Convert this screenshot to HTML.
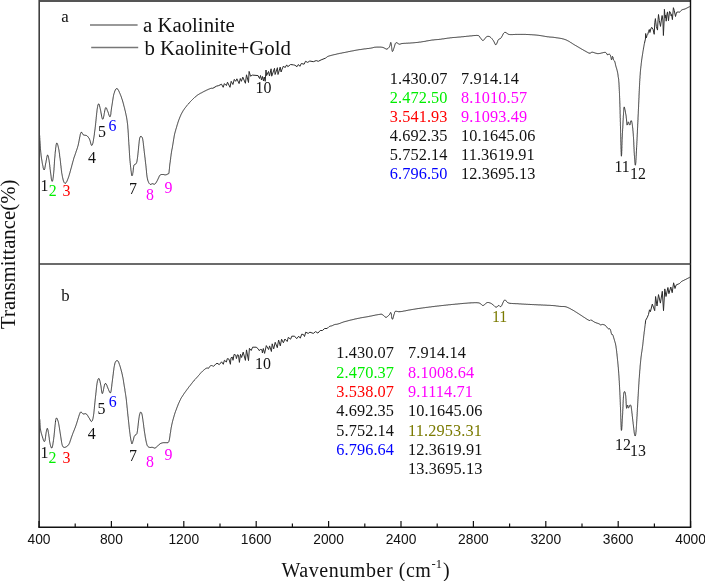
<!DOCTYPE html>
<html><head><meta charset="utf-8"><style>
html,body{margin:0;padding:0;background:#fff;}
body{width:705px;height:581px;overflow:hidden;position:relative;}
svg{position:absolute;left:0;top:0;will-change:transform;}
.serif{font-family:"Liberation Serif",serif;}
.sans{font-family:"Liberation Sans",sans-serif;}
</style></head><body>
<svg width="705" height="581" viewBox="0 0 705 581">
<g fill="none" stroke="#2a2a2a" stroke-width="1" stroke-linejoin="round">
<path d="M39.5 134.0L39.5 134.5L39.6 135.1L39.6 135.5L39.6 136.0L39.7 136.5L39.7 137.1L39.7 137.6L39.8 138.2L39.8 138.9L39.8 139.5L39.9 140.2L39.9 140.8L40.0 141.5L40.0 142.2L40.1 142.9L40.1 143.6L40.2 144.3L40.2 145.0L40.2 145.7L40.3 146.4L40.3 147.1L40.4 147.8L40.4 148.5L40.5 149.1L40.5 149.8L40.6 150.4L40.6 151.0L40.7 151.6L40.7 152.1L40.8 152.6L40.9 153.4L41.0 154.1L41.0 154.8L41.1 155.5L41.2 156.2L41.3 156.9L41.4 157.6L41.5 158.2L41.6 158.8L41.7 159.4L41.8 160.0L41.9 160.6L42.0 161.2L42.1 161.7L42.2 162.2L42.2 162.7L42.3 163.2L42.4 163.7L42.5 164.2L42.6 164.6L42.7 165.1L42.8 165.6L42.9 166.0L43.0 166.5L43.1 166.9L43.1 167.3L43.2 167.8L43.4 168.5L43.6 169.1L43.8 169.6L44.1 170.0L44.5 169.5L44.6 169.1L44.8 168.5L44.9 167.9L45.0 167.2L45.2 166.4L45.3 165.6L45.4 164.8L45.6 164.1L45.7 163.3L45.9 162.7L46.0 162.1L46.1 161.4L46.2 160.7L46.4 159.9L46.5 159.2L46.6 158.4L46.8 157.7L46.9 157.1L47.0 156.4L47.1 155.9L47.3 155.5L47.4 155.1L48.0 155.3L48.1 155.8L48.3 156.4L48.5 157.2L48.6 157.6L48.7 158.1L48.7 158.5L48.8 159.0L48.9 159.5L49.0 160.0L49.1 160.4L49.1 160.9L49.2 161.4L49.3 162.0L49.4 162.6L49.5 163.2L49.5 163.8L49.6 164.4L49.7 165.1L49.8 165.7L49.8 166.4L49.9 167.0L50.0 167.7L50.0 168.4L50.1 169.0L50.2 169.6L50.3 170.3L50.4 170.9L50.4 171.4L50.5 172.0L50.6 172.7L50.7 173.4L50.8 174.2L50.9 174.9L51.0 175.7L51.1 176.4L51.2 177.2L51.2 177.9L51.3 178.6L51.4 179.2L51.5 179.8L51.6 180.3L51.7 180.7L51.9 181.2L52.4 181.2L52.6 180.7L52.8 180.1L52.9 179.4L53.0 178.6L53.1 178.2L53.2 177.7L53.2 177.2L53.3 176.7L53.4 176.2L53.4 175.6L53.5 175.0L53.5 174.6L53.6 174.1L53.6 173.7L53.7 173.2L53.7 172.6L53.8 172.1L53.8 171.5L53.9 170.9L53.9 170.3L54.0 169.7L54.0 169.0L54.0 168.4L54.1 167.7L54.1 167.0L54.2 166.4L54.2 165.7L54.3 165.0L54.3 164.3L54.4 163.6L54.4 162.9L54.4 162.2L54.5 161.6L54.5 160.9L54.6 160.2L54.6 159.6L54.7 158.9L54.7 158.3L54.8 157.7L54.8 157.1L54.9 156.6L54.9 156.0L55.0 155.5L55.0 155.0L55.0 154.6L55.1 154.2L55.1 153.8L55.2 153.4L55.2 153.0L55.2 152.6L55.3 151.8L55.4 151.0L55.5 150.2L55.6 149.5L55.6 148.8L55.7 148.1L55.8 147.4L55.9 146.8L56.0 146.2L56.0 145.6L56.1 145.1L56.2 144.6L56.3 144.2L56.4 143.7L56.6 143.2L57.1 143.2L57.4 143.7L57.6 144.4L57.7 144.8L57.8 145.3L58.0 145.7L58.1 146.2L58.2 146.6L58.3 147.1L58.4 147.6L58.5 148.0L58.6 148.5L58.7 148.9L58.8 149.4L58.9 149.9L59.0 150.4L59.0 151.0L59.1 151.5L59.2 152.1L59.3 152.7L59.4 153.3L59.5 154.0L59.6 154.6L59.6 155.3L59.7 156.1L59.8 156.8L59.9 157.6L60.0 158.0L60.1 158.5L60.1 159.0L60.2 159.5L60.3 160.1L60.3 160.7L60.4 161.3L60.5 161.9L60.5 162.5L60.6 163.1L60.7 163.8L60.7 164.4L60.8 165.1L60.9 165.8L61.0 166.4L61.0 167.1L61.1 167.8L61.2 168.4L61.3 169.1L61.3 169.7L61.4 170.4L61.5 171.0L61.6 171.6L61.6 172.2L61.7 172.7L61.8 173.3L61.9 173.8L62.0 174.3L62.1 174.8L62.2 175.4L62.3 175.9L62.4 176.3L62.4 176.7L62.5 177.1L62.6 177.5L62.8 178.3L63.0 179.0L63.1 179.7L63.3 180.4L63.5 181.0L63.7 181.5L63.9 182.0L64.1 182.4L64.4 182.9L64.9 183.4L65.5 183.2L66.0 182.8L66.3 182.4L66.6 181.8L67.0 181.2L67.3 180.4L67.5 179.9L67.7 179.4L67.9 178.9L68.1 178.4L68.3 177.8L68.5 177.2L68.7 176.8L68.8 176.3L69.0 175.8L69.1 175.3L69.3 174.8L69.4 174.2L69.6 173.6L69.8 173.0L70.0 172.4L70.1 171.8L70.3 171.2L70.5 170.5L70.7 169.9L70.8 169.2L71.0 168.6L71.2 167.9L71.4 167.3L71.6 166.6L71.7 165.9L71.9 165.3L72.1 164.6L72.3 164.0L72.4 163.3L72.6 162.7L72.8 162.1L72.9 161.5L73.1 160.9L73.3 160.3L73.4 159.8L73.6 159.2L73.7 158.7L73.9 158.1L74.1 157.4L74.3 156.8L74.6 156.1L74.8 155.5L75.0 154.9L75.2 154.3L75.4 153.7L75.6 153.1L75.8 152.6L76.0 152.1L76.1 151.5L76.3 151.0L76.5 150.5L76.7 150.0L76.9 149.4L77.1 148.9L77.2 148.4L77.4 147.8L77.6 147.3L77.7 146.7L77.9 146.1L78.1 145.5L78.2 144.9L78.4 144.2L78.5 143.6L78.7 142.9L78.8 142.2L78.9 141.5L79.1 140.8L79.2 140.1L79.3 139.4L79.5 138.7L79.6 138.0L79.7 137.3L79.9 136.7L80.0 136.0L80.1 135.5L80.2 134.9L80.3 134.4L80.5 133.9L80.6 133.5L80.8 133.0L81.1 132.3L81.8 132.4L82.2 133.1L82.4 133.5L82.7 134.0L83.1 134.7L83.7 135.0L84.2 135.2L84.8 135.2L85.4 135.3L86.1 135.4L86.6 135.6L87.3 136.1L88.0 136.8L88.3 137.2L88.7 137.8L89.1 138.3L89.4 139.0L89.7 139.6L89.9 140.2L90.1 140.8L90.3 141.6L90.5 142.3L90.7 143.1L90.9 143.8L91.1 144.4L91.2 144.9L91.5 145.3L92.0 145.3L92.4 144.6L92.7 143.8L92.8 143.3L93.0 142.7L93.1 142.0L93.2 141.4L93.3 141.0L93.4 140.5L93.5 140.0L93.5 139.5L93.6 139.0L93.7 138.5L93.8 137.9L93.9 137.3L94.0 136.7L94.1 136.1L94.2 135.4L94.3 134.8L94.4 134.1L94.4 133.5L94.5 132.8L94.6 132.1L94.7 131.4L94.8 130.7L94.9 130.0L95.0 129.3L95.1 128.6L95.2 127.9L95.2 127.3L95.3 126.8L95.4 126.2L95.4 125.6L95.5 125.0L95.6 124.4L95.6 123.7L95.7 123.1L95.8 122.4L95.8 121.8L95.9 121.1L96.0 120.4L96.0 119.8L96.1 119.1L96.2 118.4L96.2 117.7L96.3 117.1L96.4 116.4L96.4 115.7L96.5 115.1L96.6 114.5L96.6 113.8L96.7 113.2L96.8 112.7L96.8 112.1L96.9 111.6L96.9 111.0L97.0 110.5L97.1 110.1L97.1 109.6L97.2 109.2L97.3 108.4L97.4 107.8L97.5 107.2L97.6 106.7L97.7 106.3L97.7 105.9L97.9 105.2L98.1 104.7L98.3 104.1L98.9 103.9L99.1 104.3L99.3 104.8L99.4 105.4L99.6 106.1L99.8 106.9L99.9 107.3L100.0 107.7L100.1 108.1L100.2 108.6L100.3 109.0L100.4 109.5L100.5 110.1L100.7 110.7L100.8 111.4L100.9 112.2L101.1 113.0L101.2 113.8L101.3 114.2L101.4 115.0L101.6 115.8L101.7 116.5L101.9 117.2L102.0 117.8L102.2 118.3L102.3 118.7L102.6 119.2L103.1 118.9L103.3 118.3L103.4 117.8L103.6 117.2L103.7 116.5L103.9 115.7L104.0 114.9L104.1 114.5L104.2 114.1L104.2 113.7L104.3 113.3L104.4 112.9L104.5 112.4L104.5 112.0L104.7 111.2L104.8 110.5L105.0 109.8L105.1 109.2L105.2 108.7L105.4 108.3L105.7 107.7L106.2 107.8L106.6 108.4L106.9 109.3L107.1 109.7L107.2 110.2L107.4 110.6L107.7 111.2L107.9 111.8L108.2 112.5L108.4 113.3L108.6 113.7L108.7 114.1L108.9 114.9L109.2 115.6L109.4 116.2L109.7 116.6L110.2 116.6L110.4 116.2L110.5 115.8L110.6 115.3L110.7 114.8L110.8 114.2L110.9 113.5L110.9 112.8L111.0 112.1L111.1 111.3L111.2 110.6L111.3 109.8L111.4 109.1L111.5 108.3L111.6 107.6L111.7 106.9L111.8 106.3L111.9 105.8L112.0 105.2L112.1 104.5L112.2 103.9L112.3 103.3L112.4 102.6L112.5 101.9L112.6 101.3L112.7 100.6L112.8 100.0L112.9 99.3L113.0 98.7L113.1 98.0L113.2 97.4L113.3 96.8L113.4 96.3L113.5 95.7L113.6 95.2L113.7 94.7L113.9 94.1L114.0 93.7L114.1 93.3L114.4 92.5L114.6 91.8L114.8 91.1L115.1 90.5L115.3 90.0L115.6 89.5L115.9 89.0L116.5 88.6L117.1 88.6L117.8 89.2L118.2 89.9L118.5 90.3L118.7 90.8L119.0 91.4L119.3 92.0L119.4 92.4L119.6 92.8L119.8 93.2L120.0 93.7L120.2 94.2L120.4 94.7L120.6 95.3L120.9 95.8L121.1 96.4L121.3 97.0L121.5 97.6L121.7 98.3L121.9 98.9L122.2 99.6L122.4 100.3L122.6 101.0L122.8 101.7L123.0 102.4L123.2 103.0L123.3 103.5L123.4 104.0L123.6 104.5L123.7 105.0L123.8 105.6L124.0 106.1L124.1 106.6L124.3 107.2L124.4 107.7L124.6 108.3L124.7 108.9L124.8 109.5L125.0 110.1L125.1 110.6L125.3 111.2L125.4 111.8L125.5 112.5L125.7 113.1L125.8 113.7L125.9 114.3L126.1 114.9L126.2 115.6L126.3 116.2L126.5 116.9L126.6 117.5L126.7 118.1L126.8 118.8L126.9 119.4L127.0 120.1L127.1 120.7L127.2 121.4L127.3 122.0L127.3 122.5L127.4 123.1L127.5 123.7L127.6 124.3L127.6 124.9L127.7 125.5L127.7 126.1L127.8 126.7L127.8 127.4L127.9 128.0L127.9 128.6L128.0 129.3L128.0 129.9L128.1 130.6L128.1 131.2L128.2 131.9L128.2 132.5L128.3 133.2L128.3 133.8L128.3 134.5L128.4 135.1L128.4 135.7L128.4 136.4L128.5 137.0L128.5 137.6L128.5 138.2L128.6 138.8L128.6 139.4L128.6 140.0L128.7 140.6L128.7 141.2L128.7 141.7L128.8 142.3L128.8 142.8L128.8 143.3L128.9 143.9L128.9 144.5L129.0 145.2L129.0 146.0L129.1 146.7L129.1 147.3L129.2 148.0L129.2 148.6L129.2 149.3L129.3 149.9L129.3 150.5L129.3 151.1L129.4 151.7L129.4 152.2L129.4 152.8L129.5 153.3L129.5 153.9L129.5 154.4L129.5 155.0L129.6 155.5L129.6 156.0L129.7 156.6L129.7 157.1L129.7 157.7L129.8 158.2L129.8 158.8L129.9 159.5L129.9 160.2L130.0 160.8L130.1 161.5L130.1 162.2L130.2 162.9L130.3 163.5L130.3 164.2L130.4 164.9L130.5 165.5L130.5 166.1L130.6 166.8L130.7 167.4L130.7 167.9L130.8 168.5L130.9 169.1L130.9 169.6L131.0 170.1L131.0 170.6L131.1 171.0L131.2 171.5L131.2 172.0L131.3 172.5L131.4 173.0L131.4 173.4L131.5 174.1L131.6 174.8L131.7 175.3L131.9 175.8L132.4 175.3L132.6 174.6L132.7 174.2L132.7 173.7L132.8 173.3L132.9 172.8L133.0 172.3L133.1 171.7L133.1 171.1L133.2 170.4L133.3 169.7L133.3 169.0L133.4 168.2L133.5 167.6L133.6 166.9L133.7 166.4L133.8 165.9L134.0 165.1L134.5 164.6L135.2 164.3L135.9 163.8L136.3 163.4L136.5 163.0L136.6 162.6L136.8 162.1L136.9 161.6L137.0 161.0L137.1 160.4L137.2 159.7L137.3 158.9L137.4 158.5L137.5 158.0L137.5 157.5L137.6 157.0L137.7 156.4L137.7 155.8L137.8 155.2L137.9 154.6L137.9 153.9L138.0 153.3L138.1 152.6L138.1 152.0L138.2 151.4L138.3 150.7L138.3 150.1L138.4 149.5L138.5 148.9L138.5 148.2L138.6 147.6L138.6 146.9L138.7 146.2L138.8 145.6L138.8 144.9L138.9 144.3L139.0 143.7L139.0 143.1L139.1 142.5L139.1 142.0L139.2 141.5L139.3 141.1L139.3 140.6L139.4 139.9L139.5 139.2L139.6 138.6L139.8 138.0L139.9 137.6L140.1 137.0L140.4 136.5L141.1 136.3L141.7 136.8L142.1 137.3L142.3 137.8L142.6 138.6L142.7 139.1L142.8 139.7L142.9 140.1L142.9 140.6L143.0 141.0L143.1 141.5L143.2 142.1L143.2 142.6L143.3 143.2L143.4 143.8L143.4 144.5L143.5 145.1L143.6 145.8L143.7 146.4L143.7 147.1L143.8 147.8L143.9 148.6L144.0 149.3L144.1 150.0L144.1 150.7L144.2 151.2L144.3 151.7L144.3 152.3L144.4 152.9L144.5 153.4L144.5 154.0L144.6 154.6L144.7 155.3L144.8 155.9L144.8 156.5L144.9 157.1L145.0 157.8L145.1 158.4L145.1 159.1L145.2 159.7L145.3 160.3L145.3 161.0L145.4 161.6L145.5 162.2L145.6 162.8L145.6 163.4L145.7 164.0L145.8 164.6L145.8 165.1L145.9 165.7L146.0 166.4L146.0 167.1L146.1 167.7L146.2 168.4L146.2 169.1L146.3 169.8L146.4 170.4L146.4 171.1L146.5 171.7L146.5 172.4L146.6 173.0L146.7 173.6L146.7 174.2L146.8 174.8L146.9 175.4L146.9 176.0L147.0 176.5L147.1 177.0L147.2 177.5L147.3 178.0L147.4 178.6L147.5 179.0L147.7 179.8L147.9 180.6L148.1 181.2L148.4 181.8L148.6 182.4L148.8 182.8L149.1 183.3L149.5 183.8L150.0 184.3L150.6 184.4L151.2 184.2L151.8 183.9L152.4 183.7L153.0 183.8L153.7 184.1L154.3 184.2L154.9 184.1L155.4 183.6L155.8 183.2L156.1 182.6L156.5 182.0L156.8 181.4L157.2 180.7L157.5 180.2L157.7 179.7L158.0 179.1L158.3 178.4L158.6 177.8L158.9 177.2L159.1 176.6L159.4 176.0L159.7 175.6L160.3 174.9L160.9 174.6L161.6 174.5L162.2 174.5L162.8 174.5L163.4 174.5L164.0 174.7L164.6 174.8L165.2 174.9L165.8 174.8L166.4 174.7L167.0 174.4L167.6 174.1L168.3 173.8L168.8 173.6L168.9 173.2L169.0 172.6L169.1 171.9L169.1 171.5L169.2 171.0L169.2 170.5L169.3 170.0L169.3 169.4L169.4 168.8L169.5 168.2L169.5 167.6L169.6 166.9L169.6 166.3L169.7 165.6L169.8 165.0L169.8 164.4L169.9 163.8L170.0 163.1L170.1 162.5L170.2 161.9L170.3 161.2L170.3 160.6L170.4 160.0L170.5 159.4L170.6 158.8L170.7 158.1L170.7 157.5L170.8 156.9L170.9 156.3L171.0 155.7L171.0 155.1L171.1 154.6L171.2 154.0L171.3 153.3L171.4 152.7L171.5 152.1L171.6 151.4L171.7 150.8L171.8 150.2L171.9 149.6L172.1 149.0L172.2 148.4L172.3 147.8L172.4 147.2L172.5 146.5L172.6 145.9L172.7 145.3L172.8 144.7L172.9 144.1L173.0 143.5L173.1 142.9L173.2 142.2L173.3 141.6L173.4 141.0L173.5 140.3L173.6 139.7L173.7 139.1L173.8 138.6L173.9 138.0L174.0 137.4L174.1 136.8L174.2 136.2L174.3 135.6L174.4 134.9L174.6 134.3L174.7 133.8L174.8 133.2L175.0 132.6L175.2 132.0L175.3 131.4L175.5 130.8L175.7 130.2L175.8 129.6L176.0 129.0L176.2 128.4L176.4 127.8L176.5 127.3L176.7 126.7L176.9 126.1L177.0 125.5L177.2 124.9L177.4 124.3L177.6 123.7L177.8 123.2L177.9 122.6L178.1 122.0L178.3 121.5L178.5 120.9L178.7 120.3L178.9 119.7L179.2 119.1L179.4 118.5L179.6 118.0L179.8 117.4L180.0 116.9L180.3 116.3L180.5 115.8L180.8 115.2L181.0 114.6L181.3 114.1L181.6 113.5L181.9 113.0L182.2 112.4L182.5 111.9L182.8 111.3L183.1 110.8L183.4 110.3L183.8 109.8L184.1 109.3L184.4 108.8L184.8 108.3L185.2 107.8L185.6 107.3L186.0 106.8L186.4 106.3L186.8 105.8L187.1 105.3L187.5 104.9L187.9 104.4L188.3 104.0L188.7 103.5L189.1 103.0L189.6 102.6L190.0 102.1L190.4 101.6L190.8 101.2L191.3 100.7L191.7 100.3L192.2 99.8L192.6 99.4L193.1 98.9L193.5 98.5L194.0 98.1L194.5 97.6L194.9 97.2L195.4 96.8L196.1 96.2L196.8 95.7L197.5 95.1L198.1 94.8L198.6 94.4L199.1 94.1L199.6 93.8L200.1 93.5L200.6 93.2L201.2 93.0L201.7 92.7L202.2 92.4L202.8 92.1L203.3 91.8L203.9 91.5L204.5 91.2L205.0 90.9L205.6 90.7L206.1 90.4L206.7 90.1L207.4 89.8L208.1 89.5L208.7 89.2L209.3 89.0L209.9 88.7L210.4 88.5L211.1 88.3L211.8 88.2L212.3 88.3L213.0 88.2L216.4 86.2L218.7 85.6L221.5 84.2L223.2 87.3L224.4 83.6L226.4 85.6L227.5 82.2L230.0 87.3L231.2 81.3L232.9 84.5L234.3 79.4L235.7 81.3L236.9 78.8L239.1 83.6L240.3 78.5L241.4 81.3L242.8 77.1L245.4 83.3L246.5 74.8L248.5 82.5L249.1 71.4L250.5 76.2L252.4 75.1L255.0 75.3L258.1 75.6L259.5 78.5L260.5 75.5L261.5 80.0L262.5 76.5L263.5 81.0L264.3 77.0L265.2 81.3L266.0 70.0L266.6 75.6L268.5 71.5L269.5 76.0L271.1 68.8L271.7 76.2L274.5 68.3L275.1 74.5L277.4 67.7L278.0 74.5L280.2 67.1L281.1 72.0L282.1 69.1L283.5 66.0L285.0 67.7L286.7 64.9L287.8 66.7L290.6 64.5L293.5 64.9L294.9 65.2L297.0 66.7L298.4 64.5L299.9 66.3L301.3 63.5L304.1 64.2L305.5 61.3L307.7 62.4L309.8 61.0L313.3 61.7L316.2 60.6L318.3 61.3L321.1 59.9L325.4 58.2L325.9 57.9L326.5 57.4L327.1 56.9L327.7 56.5L328.5 56.2L329.2 56.0L329.9 55.7L330.5 55.6L331.0 55.4L331.6 55.3L332.3 55.1L332.9 55.0L333.5 54.8L334.2 54.7L334.8 54.5L335.5 54.4L336.1 54.2L336.7 54.1L337.3 53.9L337.9 53.8L338.5 53.7L339.1 53.5L339.7 53.4L340.3 53.3L340.9 53.2L341.6 53.1L342.2 52.9L342.8 52.8L343.4 52.7L344.0 52.6L344.6 52.5L345.2 52.4L345.8 52.2L346.4 52.1L347.0 52.0L347.6 51.9L348.2 51.7L348.8 51.6L349.4 51.5L350.0 51.4L350.7 51.2L351.3 51.1L351.9 51.0L352.5 50.9L353.1 50.8L353.7 50.7L354.3 50.5L354.9 50.4L355.5 50.3L356.1 50.2L356.7 50.1L357.3 50.0L357.9 49.9L358.4 49.8L359.0 49.7L359.6 49.6L360.2 49.6L360.8 49.5L361.4 49.4L362.0 49.3L362.6 49.2L363.2 49.1L363.9 49.0L364.5 48.9L365.2 48.9L365.8 48.8L366.5 48.7L367.1 48.6L367.8 48.5L368.4 48.5L369.0 48.4L369.6 48.3L370.1 48.2L370.6 48.2L371.5 48.0L372.2 47.9L372.8 47.7L373.5 47.5L374.3 47.3L374.9 47.2L375.6 47.2L376.1 47.2L376.7 47.1L377.3 47.1L378.0 47.1L378.7 47.1L379.4 47.1L380.0 47.1L380.7 47.1L381.3 47.2L381.9 47.2L382.4 47.3L383.1 47.5L383.8 47.8L384.4 48.1L385.0 48.4L385.5 48.7L386.2 49.1L387.0 49.1L387.5 48.8L388.0 48.5L388.5 48.0L388.9 47.5L389.3 47.0L389.6 46.4L389.9 45.7L390.0 45.3L390.1 44.8L390.2 44.3L390.3 43.9L390.4 43.5L390.5 42.8L390.8 42.4L391.0 42.9L391.1 43.4L391.2 44.0L391.3 44.7L391.4 45.4L391.5 46.2L391.6 46.6L391.6 47.0L391.7 47.4L391.7 47.8L391.8 48.6L391.9 49.4L392.0 50.0L392.1 50.6L392.2 51.0L392.4 51.5L393.0 50.8L393.2 50.3L393.3 49.8L393.5 49.3L393.6 48.9L393.8 48.4L394.0 47.9L394.2 47.3L394.4 46.6L394.6 45.9L394.8 45.2L395.0 44.5L395.2 43.8L395.5 43.3L395.9 42.8L396.4 42.7L397.0 42.8L397.6 43.2L398.2 43.6L398.8 44.0L399.4 44.2L400.0 44.2L400.7 43.9L401.3 43.7L402.3 43.5L403.0 43.4L403.5 43.4L404.0 43.4L404.6 43.3L405.2 43.3L405.8 43.3L406.5 43.2L407.1 43.2L407.8 43.2L408.5 43.1L409.2 43.1L409.8 43.1L410.5 43.0L411.1 43.0L411.7 42.9L412.3 42.9L412.8 42.8L413.4 42.8L414.0 42.7L414.6 42.7L415.2 42.6L415.8 42.6L416.4 42.5L417.0 42.5L417.6 42.4L418.3 42.3L419.0 42.2L419.6 42.1L420.3 42.1L420.8 42.0L421.4 41.9L422.0 41.8L422.6 41.7L423.2 41.6L423.8 41.5L424.5 41.4L425.1 41.3L425.8 41.2L426.4 41.0L427.0 40.9L427.7 40.8L428.3 40.7L428.9 40.6L429.5 40.5L430.1 40.4L430.7 40.3L431.2 40.2L431.7 40.1L432.4 40.0L433.1 40.0L433.8 39.9L434.4 39.8L435.0 39.8L435.6 39.7L436.1 39.7L436.7 39.6L437.2 39.6L437.8 39.5L438.4 39.5L439.0 39.4L439.7 39.3L440.3 39.3L440.8 39.2L441.4 39.1L442.0 39.0L442.6 38.9L443.2 38.9L443.8 38.8L444.4 38.7L445.0 38.6L445.7 38.5L446.3 38.4L446.9 38.3L447.5 38.2L448.2 38.1L448.8 38.1L449.4 38.0L450.0 37.9L450.6 37.8L451.2 37.8L451.8 37.7L452.4 37.6L453.0 37.6L453.6 37.5L454.2 37.5L454.8 37.4L455.5 37.4L456.1 37.3L456.7 37.3L457.3 37.2L457.9 37.2L458.5 37.1L459.1 37.1L459.7 37.0L460.3 37.0L460.9 36.9L461.5 36.8L462.2 36.8L462.8 36.7L463.4 36.7L464.0 36.6L464.7 36.5L465.3 36.5L465.9 36.4L466.5 36.3L467.1 36.3L467.7 36.2L468.3 36.2L468.9 36.1L469.4 36.0L470.0 36.0L470.7 35.9L471.4 35.9L472.1 35.8L472.8 35.7L473.5 35.6L474.1 35.6L474.8 35.5L475.4 35.5L476.0 35.4L476.6 35.4L477.1 35.4L477.8 35.5L478.4 35.6L479.1 36.0L479.5 36.4L479.8 37.0L480.1 37.5L480.5 38.0L480.9 38.5L481.3 39.1L481.7 39.6L482.2 40.1L482.9 40.5L483.5 40.3L484.1 39.7L484.5 39.1L485.0 38.5L485.4 37.9L485.9 37.4L486.3 36.9L486.8 36.6L487.4 36.4L488.0 36.3L488.7 36.4L489.3 36.5L489.9 36.8L490.5 37.3L491.0 37.7L491.4 38.1L491.9 38.6L492.3 39.2L492.7 39.7L493.1 40.2L493.5 40.8L493.8 41.4L494.2 42.1L494.5 42.8L494.8 43.5L495.1 44.1L495.4 44.6L496.0 44.7L496.5 44.2L496.7 43.7L497.0 43.0L497.3 42.2L497.6 41.5L497.8 40.8L498.1 40.2L498.4 39.7L498.9 39.2L499.6 38.9L500.1 38.7L500.7 38.3L501.1 37.8L501.4 37.4L501.7 36.8L502.0 36.2L502.4 35.6L502.7 35.0L503.0 34.3L503.3 33.7L503.7 33.2L504.1 32.8L504.6 32.4L505.1 32.3L505.9 32.6L506.4 32.9L506.9 33.3L507.5 33.7L508.1 34.1L508.8 34.4L509.4 34.5L509.9 34.6L510.5 34.6L511.0 34.6L511.6 34.6L512.2 34.6L512.8 34.6L513.4 34.5L514.1 34.5L514.7 34.5L515.4 34.4L516.1 34.4L516.8 34.4L517.4 34.4L517.9 34.4L518.5 34.4L519.0 34.4L519.6 34.4L520.2 34.4L520.8 34.4L521.4 34.4L522.0 34.4L522.6 34.4L523.2 34.4L523.8 34.4L524.5 34.4L525.1 34.4L525.7 34.4L526.4 34.5L527.0 34.5L527.6 34.5L528.2 34.5L528.8 34.6L529.4 34.6L530.0 34.6L530.6 34.7L531.3 34.7L531.9 34.7L532.5 34.8L533.2 34.8L533.8 34.9L534.4 34.9L535.0 35.0L535.6 35.0L536.2 35.1L536.8 35.1L537.4 35.2L538.0 35.2L538.5 35.3L539.2 35.4L539.9 35.5L540.5 35.6L541.1 35.7L541.7 35.8L542.3 35.9L542.9 36.0L543.5 36.1L544.1 36.2L544.7 36.3L545.2 36.4L545.8 36.5L546.4 36.6L547.0 36.7L547.6 36.8L548.2 36.8L548.8 36.9L549.4 37.0L550.0 37.0L550.6 37.1L551.2 37.1L551.8 37.2L552.4 37.2L553.0 37.3L553.6 37.3L554.2 37.4L554.8 37.5L555.5 37.6L556.0 37.7L556.6 37.8L557.2 37.9L557.8 37.9L558.3 38.0L558.9 38.1L559.5 38.2L560.1 38.3L560.7 38.4L561.3 38.5L561.9 38.6L562.5 38.8L563.1 38.9L563.7 39.1L564.3 39.3L564.9 39.5L565.5 39.7L566.0 39.9L566.5 40.1L567.1 40.4L567.6 40.7L568.1 40.9L568.6 41.2L569.2 41.5L569.7 41.8L570.2 42.2L570.7 42.5L571.2 42.8L571.8 43.1L572.3 43.5L572.8 43.8L573.3 44.1L573.8 44.5L574.4 44.8L574.9 45.1L575.4 45.4L575.9 45.7L576.5 46.0L577.0 46.3L577.6 46.7L578.1 47.0L578.7 47.3L579.3 47.7L579.9 48.0L580.4 48.3L581.0 48.6L581.5 49.0L582.1 49.3L582.6 49.6L583.1 49.9L583.8 50.3L584.5 50.7L585.1 51.0L585.8 51.4L586.5 51.8L587.2 52.2L587.8 52.5L588.5 52.9L589.1 53.1L590.0 53.2L590.5 53.0L591.0 52.6L591.6 52.3L592.4 52.2L593.1 52.3L593.7 52.5L594.2 52.7L594.8 52.9L595.4 53.1L596.1 53.3L596.8 53.4L597.4 53.6L598.1 53.6L598.7 53.6L599.3 53.5L599.9 53.4L600.6 53.3L601.3 53.1L601.9 52.9L602.6 52.8L603.2 52.6L603.8 52.5L604.4 52.4L605.1 52.4L605.7 52.5L606.3 53.0L606.7 53.6L607.0 54.2L607.2 54.7L608.0 54.7L608.6 54.3L609.1 54.1L609.6 54.3L610.1 54.7L610.5 55.5L610.7 56.0L610.8 56.7L611.0 57.5L611.0 57.9L611.2 58.6L611.3 59.3L611.5 59.8L611.9 59.2L612.1 58.4L612.1 57.9L612.2 57.5L612.3 57.1L612.4 56.4L612.9 56.9L613.1 57.6L613.2 58.4L613.4 59.1L613.5 59.8L613.8 60.4L614.5 61.0L614.7 61.4L614.8 61.8L615.0 62.4L615.1 63.0L615.3 63.6L615.4 64.3L615.6 64.9L615.7 65.5L615.9 66.1L616.0 66.7L616.2 67.3L616.4 67.9L616.6 68.5L616.7 69.0L616.9 69.6L617.0 70.2L617.2 70.7L617.3 71.3L617.5 72.0L617.6 72.5L617.7 73.1L617.8 73.7L617.9 74.3L618.0 75.0L618.1 75.6L618.1 76.2L618.2 76.7L618.3 77.2L618.4 77.7L618.5 78.3L618.6 79.0L618.7 79.5L618.7 80.0L618.7 80.4L618.8 80.9L618.8 81.4L618.8 81.9L618.9 82.4L618.9 83.0L619.0 83.6L619.0 84.2L619.0 84.8L619.1 85.4L619.1 86.1L619.1 86.8L619.2 87.4L619.2 88.2L619.2 88.9L619.3 89.6L619.3 90.2L619.3 90.7L619.4 91.2L619.4 91.7L619.4 92.2L619.4 92.8L619.5 93.3L619.5 93.8L619.5 94.3L619.5 94.8L619.5 95.4L619.6 95.9L619.6 96.5L619.6 97.1L619.6 97.6L619.7 98.3L619.7 98.9L619.7 99.5L619.7 100.2L619.8 100.8L619.8 101.5L619.8 102.3L619.8 103.0L619.9 103.8L619.9 104.6L619.9 105.0L619.9 105.5L619.9 106.0L619.9 106.5L620.0 107.0L620.0 107.5L620.0 108.1L620.0 108.6L620.0 109.2L620.0 109.7L620.1 110.3L620.1 110.9L620.1 111.5L620.1 112.1L620.1 112.7L620.1 113.3L620.1 113.9L620.2 114.5L620.2 115.1L620.2 115.8L620.2 116.4L620.2 117.1L620.2 117.7L620.3 118.3L620.3 119.0L620.3 119.6L620.3 120.3L620.3 120.9L620.3 121.6L620.4 122.2L620.4 122.9L620.4 123.5L620.4 124.2L620.4 124.8L620.4 125.4L620.5 126.1L620.5 126.7L620.5 127.3L620.5 128.0L620.5 128.6L620.5 129.2L620.6 129.8L620.6 130.4L620.6 131.0L620.6 131.6L620.6 132.3L620.6 132.9L620.7 133.6L620.7 134.3L620.7 135.0L620.7 135.7L620.7 136.5L620.8 137.2L620.8 138.0L620.8 138.8L620.8 139.5L620.8 140.3L620.8 141.1L620.9 141.9L620.9 142.7L620.9 143.4L620.9 144.2L620.9 145.0L621.0 145.7L621.0 146.5L621.0 147.2L621.0 147.9L621.0 148.6L621.1 149.3L621.1 149.9L621.1 150.6L621.1 151.2L621.1 151.8L621.2 152.3L621.2 152.9L621.2 153.3L621.2 153.8L621.2 154.2L621.3 154.8L621.3 155.3L621.3 155.8L621.4 156.2L621.5 155.8L621.5 155.4L621.6 154.8L621.6 154.4L621.6 153.9L621.7 153.4L621.7 152.8L621.7 152.2L621.7 151.5L621.8 150.9L621.8 150.2L621.8 149.4L621.8 148.6L621.9 147.9L621.9 147.1L621.9 146.7L621.9 146.3L621.9 145.8L621.9 145.4L622.0 145.0L622.0 144.6L622.0 144.2L622.0 143.8L622.0 143.3L622.0 142.9L622.0 142.5L622.1 142.1L622.1 141.7L622.1 141.3L622.1 140.8L622.1 140.4L622.1 140.0L622.1 139.6L622.2 139.2L622.2 138.4L622.2 137.7L622.3 136.9L622.3 136.2L622.3 135.7L622.4 135.1L622.4 134.5L622.4 133.9L622.4 133.3L622.5 132.7L622.5 132.1L622.5 131.4L622.6 130.8L622.6 130.1L622.6 129.4L622.7 128.8L622.7 128.1L622.8 127.4L622.8 126.7L622.8 126.0L622.9 125.3L622.9 124.6L622.9 123.9L623.0 123.2L623.0 122.5L623.0 121.8L623.1 121.1L623.1 120.4L623.2 119.7L623.2 119.1L623.2 118.4L623.3 117.7L623.3 117.1L623.3 116.5L623.4 115.9L623.4 115.3L623.5 114.7L623.5 114.1L623.5 113.6L623.6 113.1L623.6 112.6L623.6 112.1L623.7 111.6L623.7 111.2L623.7 110.8L623.8 110.2L623.8 109.7L624.0 107.7L624.2 106.9L624.5 107.7L624.7 108.5L624.8 109.0L624.9 109.4L625.0 109.9L625.2 110.5L625.3 111.1L625.4 111.8L625.5 112.4L625.6 113.2L625.7 113.9L625.9 114.6L626.0 115.3L626.1 116.0L626.2 116.6L626.2 117.2L626.3 117.9L626.4 118.6L626.5 119.3L626.5 120.0L626.6 120.8L626.6 121.5L626.7 122.2L626.8 122.9L626.8 123.5L626.9 124.0L626.9 124.5L627.0 125.1L627.6 124.3L627.7 123.8L627.8 123.3L627.9 122.8L628.0 122.4L628.2 121.8L628.7 122.3L628.9 123.1L629.0 123.6L629.2 124.0L629.3 124.5L629.6 125.1L630.1 124.5L630.3 123.7L630.3 123.3L630.4 122.9L630.5 122.5L630.6 122.1L630.7 121.3L630.9 120.8L631.4 120.8L631.6 121.2L631.8 122.0L631.9 122.4L632.0 122.9L632.1 123.5L632.2 124.1L632.3 124.5L632.3 124.9L632.4 125.4L632.4 125.9L632.5 126.4L632.6 126.9L632.6 127.4L632.7 128.0L632.8 128.6L632.8 129.2L632.9 129.8L632.9 130.4L633.0 131.1L633.1 131.8L633.1 132.5L633.2 133.2L633.2 133.9L633.3 134.7L633.3 135.4L633.4 136.2L633.4 136.7L633.5 137.2L633.5 137.8L633.5 138.3L633.6 138.9L633.6 139.5L633.6 140.1L633.7 140.7L633.7 141.4L633.7 142.0L633.8 142.7L633.8 143.3L633.8 144.0L633.8 144.7L633.9 145.3L633.9 146.0L633.9 146.7L634.0 147.3L634.0 148.0L634.0 148.7L634.1 149.3L634.1 150.0L634.1 150.6L634.1 151.2L634.2 151.8L634.2 152.4L634.2 153.0L634.3 153.5L634.3 154.0L634.3 154.5L634.4 155.0L634.4 155.5L634.4 156.0L634.5 156.4L634.5 156.9L634.5 157.4L634.6 157.9L634.6 158.4L634.6 158.9L634.7 159.4L634.7 159.8L634.7 160.3L634.8 160.8L634.8 161.2L634.8 161.6L634.9 162.1L634.9 162.5L635.0 163.2L635.1 163.9L635.1 164.4L635.2 164.8L635.4 165.2L635.5 164.8L635.6 164.4L635.7 163.9L635.7 163.3L635.8 162.9L635.8 162.5L635.8 162.0L635.9 161.5L635.9 161.0L635.9 160.4L636.0 159.8L636.0 159.2L636.0 158.6L636.1 157.9L636.1 157.3L636.1 156.6L636.2 155.9L636.2 155.1L636.3 154.4L636.3 153.7L636.3 152.9L636.4 152.1L636.4 151.3L636.5 150.6L636.5 149.8L636.5 149.0L636.6 148.2L636.6 147.4L636.7 146.6L636.7 145.8L636.7 145.3L636.8 144.8L636.8 144.3L636.8 143.8L636.8 143.3L636.9 142.8L636.9 142.2L636.9 141.7L636.9 141.2L637.0 140.6L637.0 140.1L637.0 139.5L637.0 138.9L637.1 138.4L637.1 137.8L637.1 137.2L637.2 136.6L637.2 136.0L637.2 135.5L637.2 134.9L637.3 134.3L637.3 133.7L637.3 133.0L637.4 132.4L637.4 131.8L637.4 131.2L637.4 130.6L637.5 130.0L637.5 129.3L637.5 128.7L637.6 128.1L637.6 127.4L637.6 126.8L637.7 126.2L637.7 125.5L637.7 124.9L637.7 124.2L637.8 123.6L637.8 122.9L637.8 122.3L637.9 121.6L637.9 121.0L637.9 120.3L638.0 119.7L638.0 119.0L638.0 118.4L638.0 117.7L638.1 117.1L638.1 116.4L638.1 115.8L638.2 115.1L638.2 114.5L638.2 113.9L638.3 113.4L638.3 112.8L638.3 112.2L638.3 111.6L638.4 111.0L638.4 110.4L638.4 109.8L638.4 109.2L638.5 108.6L638.5 107.9L638.5 107.3L638.6 106.7L638.6 106.0L638.6 105.4L638.6 104.7L638.7 104.1L638.7 103.4L638.7 102.8L638.8 102.1L638.8 101.5L638.8 100.8L638.8 100.2L638.9 99.5L638.9 98.9L638.9 98.2L639.0 97.6L639.0 96.9L639.0 96.3L639.0 95.6L639.1 95.0L639.1 94.3L639.1 93.7L639.2 93.0L639.2 92.4L639.2 91.8L639.2 91.1L639.3 90.5L639.3 89.9L639.3 89.3L639.4 88.6L639.4 88.0L639.4 87.4L639.4 86.9L639.5 86.3L639.5 85.7L639.5 85.1L639.6 84.6L639.6 84.0L639.6 83.4L639.6 82.9L639.7 82.4L639.7 81.9L639.7 81.3L639.8 80.8L639.8 80.4L639.8 79.9L639.8 79.4L639.9 78.9L639.9 78.5L639.9 78.0L640.0 77.6L640.0 77.1L640.0 76.7L640.0 76.3L640.1 75.8L640.1 75.4L640.2 74.6L640.2 73.9L640.3 73.2L640.3 72.5L640.4 71.8L640.4 71.2L640.5 70.5L640.6 70.0L640.6 69.4L640.7 68.8L640.7 68.3L640.8 67.8L640.8 67.2L640.9 66.7L640.9 66.2L641.0 65.8L641.1 65.3L641.1 64.8L641.2 64.3L641.2 63.8L641.3 63.3L641.4 62.9L641.4 62.4L641.5 61.9L641.5 61.2L641.6 60.5L641.7 59.8L641.8 59.1L641.9 58.5L642.0 57.8L642.1 57.1L642.2 56.5L642.3 55.9L642.4 55.2L642.5 54.6L642.6 54.0L642.7 53.5L642.8 52.9L642.8 52.4L642.9 51.8L643.0 51.3L643.1 50.8L643.2 50.3L643.3 49.8L643.4 49.2L643.4 48.8L643.6 48.0L643.7 47.3L643.8 46.7L643.9 46.1L644.0 45.6L644.1 45.0L644.2 44.5L644.3 44.0L644.4 43.5L645.4 39.1L645.7 33.5L646.3 37.9L647.0 35.5L647.8 34.3L648.5 31.5L649.3 29.5L649.9 32.5L650.8 29.0L651.7 27.3L653.0 29.2L654.2 34.3L654.8 22.8L655.4 18.6L656.3 26.4L657.5 30.1L658.1 19.2L658.5 14.5L659.3 20.4L660.5 26.4L661.1 22.0L661.7 18.0L662.1 15.5L662.9 20.0L663.4 35.5L664.1 21.0L664.4 9.3L665.2 18.1L665.7 15.0L666.2 21.2L667.0 14.0L667.5 11.9L668.5 20.7L669.1 15.0L669.6 11.4L670.6 12.9L671.2 16.0L671.6 14.5L672.4 19.6L673.4 7.7L674.2 10.3L675.5 16.5L676.5 12.4L678.1 11.9L678.7 12.1L679.3 12.3L679.8 12.1L680.3 11.4L680.8 10.9L681.2 10.4L681.7 10.0L682.2 9.7L682.8 9.6L683.4 9.4L684.0 9.3L684.8 9.0L685.6 8.7L686.2 8.4L686.8 8.1L687.5 7.7L688.1 7.4L688.7 7.1L689.2 6.9L689.8 6.6L689.8 6.6"/>
<path d="M39.8 419.3L39.8 419.8L39.8 420.3L39.9 420.8L39.9 421.4L39.9 422.0L39.9 422.6L40.0 423.3L40.0 424.0L40.0 424.7L40.1 425.4L40.1 426.1L40.2 426.8L40.2 427.4L40.3 428.1L40.4 428.6L40.5 429.2L40.6 429.9L40.7 430.6L40.8 431.2L41.0 431.9L41.1 432.5L41.3 433.1L41.4 433.6L41.6 434.2L41.8 434.8L41.9 435.3L42.1 435.8L42.3 436.4L42.5 437.2L42.8 438.0L42.9 438.4L43.0 438.8L43.1 439.2L43.4 439.9L43.7 440.6L43.9 441.2L44.3 441.6L44.8 441.2L45.0 440.6L45.1 440.1L45.2 439.5L45.3 438.8L45.4 438.1L45.5 437.4L45.6 436.6L45.7 435.8L45.8 435.0L45.9 434.3L46.0 433.6L46.1 432.9L46.2 432.3L46.3 431.7L46.4 431.3L46.5 430.7L46.6 430.1L46.8 429.6L46.8 429.2L47.0 428.5L47.6 428.7L47.7 429.1L47.8 429.6L48.0 430.2L48.1 430.9L48.2 431.7L48.4 432.5L48.5 432.9L48.5 433.3L48.6 433.7L48.7 434.2L48.8 434.7L48.8 435.3L48.9 435.9L49.0 436.6L49.1 437.2L49.2 437.9L49.3 438.6L49.3 439.3L49.4 439.9L49.5 440.6L49.6 441.2L49.7 441.8L49.8 442.4L49.9 442.9L50.0 443.4L50.1 443.9L50.2 444.3L50.3 444.8L50.4 445.2L50.6 445.7L50.7 446.1L50.8 446.5L51.0 447.2L51.3 447.8L51.9 448.0L52.1 447.5L52.3 447.0L52.4 446.5L52.5 446.0L52.7 445.4L52.8 444.8L52.9 444.1L53.0 443.4L53.1 442.7L53.2 441.9L53.4 441.1L53.4 440.7L53.5 440.3L53.5 439.9L53.6 439.4L53.6 439.0L53.7 438.6L53.8 438.1L53.8 437.6L53.9 437.0L54.0 436.5L54.0 435.9L54.1 435.2L54.2 434.6L54.2 433.9L54.3 433.3L54.4 432.6L54.4 431.9L54.5 431.2L54.6 430.5L54.6 429.8L54.7 429.1L54.8 428.4L54.8 427.7L54.9 427.1L55.0 426.4L55.0 425.8L55.1 425.2L55.2 424.6L55.2 424.0L55.3 423.5L55.3 423.0L55.4 422.5L55.4 422.1L55.6 420.9L55.7 420.2L55.8 419.7L55.9 419.2L56.1 418.5L56.4 418.1L56.9 418.2L57.2 418.7L57.4 419.2L57.6 419.8L57.8 420.4L58.1 421.2L58.2 421.6L58.3 422.0L58.4 422.4L58.5 422.9L58.6 423.4L58.7 423.8L58.8 424.4L58.9 424.9L59.0 425.5L59.1 426.1L59.2 426.7L59.3 427.3L59.4 427.9L59.5 428.6L59.6 429.2L59.7 429.9L59.8 430.5L59.9 431.2L60.0 431.8L60.1 432.5L60.2 433.1L60.3 433.7L60.4 434.3L60.5 435.0L60.6 435.6L60.7 436.3L60.8 436.9L60.9 437.6L61.0 438.3L61.1 439.0L61.2 439.7L61.3 440.3L61.4 441.0L61.5 441.6L61.6 442.2L61.7 442.7L61.8 443.3L61.9 443.7L62.0 444.2L62.1 444.6L62.3 445.2L62.4 445.7L62.6 446.1L62.9 446.7L63.5 447.1L64.2 447.4L64.7 447.4L65.4 447.2L66.0 446.9L66.6 446.6L67.1 446.2L67.7 445.8L68.3 445.1L68.7 444.6L69.1 443.8L69.3 443.4L69.5 443.0L69.7 442.6L69.9 442.1L70.0 441.6L70.2 441.0L70.4 440.4L70.6 439.9L70.8 439.3L71.0 438.6L71.2 438.0L71.4 437.4L71.6 436.8L71.9 436.1L72.1 435.5L72.3 434.9L72.5 434.4L72.7 433.8L72.9 433.3L73.1 432.7L73.4 432.2L73.6 431.6L73.8 431.0L74.0 430.5L74.3 429.9L74.5 429.3L74.7 428.7L74.9 428.2L75.2 427.6L75.4 427.0L75.6 426.4L75.8 425.9L76.0 425.3L76.2 424.7L76.4 424.1L76.6 423.5L76.8 422.8L77.0 422.2L77.2 421.6L77.4 420.9L77.6 420.3L77.8 419.7L77.9 419.1L78.1 418.5L78.3 417.9L78.5 417.3L78.6 416.8L78.8 416.4L78.9 415.9L79.2 415.2L79.3 414.7L79.5 414.3L79.8 413.6L80.0 413.0L80.2 412.5L80.6 412.1L81.2 412.1L81.9 412.7L82.4 413.3L82.9 413.8L83.5 414.0L84.1 413.9L84.7 413.8L85.3 413.7L85.9 413.7L86.6 414.2L86.9 414.6L87.3 415.1L87.7 415.6L88.0 416.2L88.4 416.8L88.7 417.4L89.0 417.9L89.4 418.4L89.8 419.1L90.2 419.9L90.5 420.6L90.8 421.1L91.3 421.5L91.9 421.2L92.2 420.8L92.5 420.1L92.7 419.5L92.9 418.8L93.0 418.4L93.1 417.9L93.2 417.3L93.3 416.7L93.4 416.1L93.5 415.5L93.6 415.1L93.6 414.6L93.7 414.1L93.8 413.6L93.8 413.0L93.9 412.5L94.0 411.9L94.0 411.3L94.1 410.7L94.2 410.0L94.2 409.4L94.3 408.7L94.4 408.1L94.4 407.4L94.5 406.7L94.6 406.0L94.6 405.4L94.7 404.7L94.8 404.0L94.8 403.3L94.9 402.6L95.0 402.0L95.0 401.3L95.1 400.7L95.2 400.0L95.2 399.4L95.3 398.8L95.4 398.2L95.4 397.6L95.5 397.1L95.5 396.5L95.6 396.0L95.7 395.3L95.8 394.5L95.8 393.8L95.9 393.1L96.0 392.4L96.1 391.7L96.1 391.0L96.2 390.3L96.3 389.7L96.3 389.0L96.4 388.4L96.5 387.8L96.5 387.2L96.6 386.6L96.7 386.1L96.7 385.5L96.8 385.0L96.9 384.5L96.9 384.0L97.0 383.5L97.1 383.1L97.2 382.7L97.3 381.9L97.4 381.3L97.6 380.8L97.7 380.4L97.8 379.9L98.1 379.3L98.4 378.8L98.9 378.4L99.3 379.0L99.5 379.5L99.7 380.0L99.8 380.7L100.0 381.4L100.1 382.1L100.3 382.9L100.5 383.7L100.6 384.4L100.8 385.1L100.9 385.7L101.0 386.3L101.1 387.1L101.2 387.8L101.3 388.6L101.4 389.4L101.5 390.2L101.6 390.9L101.7 391.6L101.8 392.3L101.9 392.8L102.0 393.2L102.2 393.6L102.7 393.2L102.8 392.7L103.0 392.1L103.1 391.4L103.3 390.7L103.5 389.9L103.5 389.5L103.6 389.1L103.7 388.7L103.8 388.2L103.9 387.5L104.1 386.7L104.3 386.0L104.4 385.5L104.5 385.0L104.9 384.1L105.1 383.7L105.8 383.5L106.3 384.0L106.5 384.5L106.8 385.1L107.0 385.7L107.2 386.4L107.5 387.1L107.8 387.8L108.0 388.4L108.3 389.1L108.5 389.5L108.7 389.9L108.8 390.4L109.0 390.8L109.2 391.2L109.5 391.9L109.8 392.5L110.5 392.8L110.8 392.2L110.9 391.7L111.0 391.3L111.1 390.8L111.2 390.3L111.3 389.8L111.3 389.2L111.4 388.5L111.5 387.9L111.6 387.2L111.7 386.5L111.8 385.8L111.8 385.0L111.9 384.3L112.0 383.5L112.1 382.8L112.2 382.1L112.3 381.3L112.4 380.6L112.4 380.0L112.5 379.5L112.6 378.9L112.7 378.3L112.8 377.6L112.8 377.0L112.9 376.3L113.0 375.7L113.1 375.0L113.2 374.3L113.3 373.6L113.3 373.0L113.4 372.3L113.5 371.6L113.6 370.9L113.7 370.3L113.8 369.6L113.9 369.0L113.9 368.4L114.0 367.8L114.1 367.2L114.2 366.7L114.3 366.2L114.4 365.7L114.5 365.2L114.6 364.8L114.8 364.0L114.9 363.4L115.1 362.9L115.2 362.5L115.5 361.8L115.8 361.3L116.3 360.9L116.9 360.6L117.4 360.6L117.9 361.0L118.3 361.6L118.7 362.4L118.9 362.9L119.1 363.5L119.3 364.1L119.4 364.5L119.6 364.9L119.8 365.4L119.9 365.9L120.1 366.4L120.2 366.9L120.4 367.4L120.6 368.0L120.7 368.6L120.9 369.2L121.1 369.8L121.2 370.4L121.4 371.1L121.6 371.8L121.8 372.5L121.9 373.2L122.1 373.9L122.3 374.7L122.4 375.4L122.5 376.0L122.6 376.5L122.8 377.1L122.9 377.6L123.0 378.2L123.1 378.7L123.2 379.3L123.3 379.9L123.4 380.5L123.5 381.2L123.6 381.8L123.7 382.5L123.8 383.1L123.9 383.8L124.0 384.4L124.1 385.1L124.2 385.7L124.3 386.4L124.4 387.1L124.6 387.7L124.7 388.4L124.8 389.0L124.9 389.7L124.9 390.3L125.0 390.9L125.1 391.5L125.2 392.1L125.3 392.7L125.4 393.3L125.5 393.8L125.6 394.3L125.6 394.8L125.7 395.3L125.8 395.8L125.9 396.5L125.9 396.9L126.0 397.3L126.1 398.1L126.2 398.8L126.3 399.4L126.3 400.0L126.4 400.5L126.5 401.1L126.5 401.5L126.6 402.0L126.6 402.5L126.7 403.0L126.7 403.5L126.8 404.1L126.8 404.7L126.9 405.4L127.0 405.9L127.0 406.5L127.1 407.0L127.1 407.6L127.2 408.2L127.3 408.7L127.3 409.3L127.4 409.9L127.4 410.5L127.5 411.1L127.6 411.7L127.6 412.3L127.7 412.9L127.7 413.6L127.8 414.2L127.9 414.9L127.9 415.5L128.0 416.2L128.1 416.9L128.2 417.6L128.2 418.2L128.3 418.7L128.3 419.3L128.4 419.9L128.5 420.5L128.5 421.1L128.6 421.7L128.7 422.3L128.7 422.9L128.8 423.6L128.9 424.2L128.9 424.8L129.0 425.5L129.1 426.1L129.1 426.8L129.2 427.4L129.3 428.0L129.3 428.7L129.4 429.3L129.5 429.9L129.6 430.5L129.6 431.1L129.7 431.7L129.8 432.2L129.8 432.7L129.9 433.3L130.0 433.8L130.1 434.4L130.1 434.8L130.2 435.6L130.3 436.4L130.5 437.2L130.6 437.9L130.7 438.6L130.8 439.3L130.9 440.0L131.0 440.6L131.2 441.2L131.3 441.8L131.4 442.3L131.5 442.7L131.6 443.2L131.9 443.8L132.5 443.0L132.6 442.6L132.7 442.1L132.8 441.6L133.0 441.1L133.1 440.7L133.3 440.0L133.5 439.4L133.6 438.8L133.8 438.1L133.9 437.5L134.1 436.8L134.3 436.3L134.5 435.8L135.0 435.3L135.5 435.0L136.0 434.7L136.7 434.0L136.9 433.6L137.0 433.2L137.1 432.7L137.2 432.2L137.3 431.6L137.4 430.9L137.5 430.5L137.5 430.0L137.6 429.5L137.7 429.0L137.7 428.5L137.8 428.0L137.9 427.4L137.9 426.8L138.0 426.2L138.1 425.5L138.2 424.8L138.2 424.1L138.3 423.4L138.4 422.7L138.5 422.0L138.5 421.3L138.6 420.7L138.7 420.1L138.8 419.5L138.9 418.9L138.9 418.4L139.0 417.9L139.1 417.4L139.1 417.0L139.2 416.6L139.3 416.2L139.4 415.4L139.6 414.7L139.7 414.1L139.9 413.6L140.0 413.2L140.2 412.6L140.6 412.2L141.1 412.3L141.4 412.7L141.7 413.4L141.9 414.0L142.0 414.4L142.1 414.9L142.2 415.4L142.3 415.9L142.4 416.5L142.5 417.2L142.6 417.9L142.7 418.6L142.8 419.4L142.9 419.8L142.9 420.2L143.0 420.6L143.1 421.1L143.1 421.6L143.2 422.1L143.3 422.6L143.4 423.2L143.4 423.8L143.5 424.4L143.6 425.0L143.7 425.6L143.7 426.3L143.8 426.9L143.9 427.6L144.0 428.2L144.1 428.9L144.2 429.5L144.2 430.1L144.3 430.8L144.4 431.4L144.5 432.0L144.6 432.6L144.7 433.2L144.8 433.7L144.9 434.3L145.0 435.0L145.1 435.7L145.2 436.4L145.3 437.1L145.4 437.8L145.6 438.4L145.7 439.1L145.8 439.8L145.9 440.4L146.1 441.0L146.2 441.6L146.3 442.2L146.4 442.7L146.6 443.3L146.7 443.7L146.8 444.2L146.9 444.6L147.2 445.3L147.4 445.8L147.8 446.4L148.4 446.9L149.1 447.2L149.6 447.4L150.2 447.5L150.9 447.4L151.5 447.3L152.1 447.3L152.7 447.4L153.3 447.6L153.9 447.9L154.4 448.1L155.0 448.0L155.7 447.7L156.4 447.1L157.0 446.6L157.7 446.0L158.1 445.5L158.6 445.1L159.1 444.6L159.6 444.2L160.4 443.6L161.0 443.3L161.6 443.1L162.3 442.9L162.9 442.8L163.5 442.7L164.1 442.7L164.8 442.7L165.4 442.7L166.0 442.7L166.6 442.7L167.3 442.7L168.0 442.7L168.5 442.2L168.8 441.7L169.0 441.1L169.1 440.7L169.2 440.1L169.4 439.6L169.5 439.0L169.6 438.3L169.7 437.7L169.8 437.0L169.9 436.3L170.0 435.6L170.1 435.0L170.1 434.3L170.2 433.7L170.4 433.1L170.5 432.5L170.6 431.9L170.7 431.3L170.7 430.7L170.8 430.1L170.9 429.5L171.0 428.8L171.1 428.2L171.2 427.6L171.3 427.0L171.5 426.4L171.6 425.8L171.7 425.2L171.8 424.6L172.0 424.0L172.1 423.4L172.2 422.8L172.4 422.2L172.5 421.6L172.7 421.1L172.8 420.5L173.0 419.9L173.1 419.3L173.3 418.7L173.5 418.1L173.6 417.5L173.8 416.9L174.0 416.3L174.1 415.8L174.3 415.2L174.5 414.6L174.7 414.1L174.8 413.5L175.0 413.0L175.2 412.4L175.4 411.8L175.6 411.3L175.8 410.7L176.0 410.1L176.3 409.5L176.5 408.9L176.7 408.3L176.9 407.8L177.1 407.2L177.3 406.7L177.6 406.1L177.8 405.5L178.0 405.0L178.2 404.4L178.5 403.8L178.7 403.2L179.0 402.6L179.2 402.1L179.5 401.5L179.7 400.9L180.0 400.4L180.3 399.8L180.6 399.3L180.8 398.7L181.1 398.2L181.4 397.7L181.7 397.2L182.1 396.7L182.4 396.2L182.7 395.7L183.0 395.2L183.4 394.7L183.7 394.2L184.0 393.7L184.4 393.2L184.7 392.7L185.1 392.2L185.5 391.7L185.8 391.2L186.2 390.7L186.5 390.2L186.9 389.7L187.3 389.2L187.7 388.7L188.0 388.2L188.4 387.7L188.8 387.1L189.2 386.6L189.6 386.1L190.1 385.6L190.4 385.1L190.8 384.6L191.2 384.1L191.6 383.6L192.0 383.1L192.3 382.7L192.6 382.3L193.1 381.7L193.6 381.0L194.1 380.5L194.6 379.9L195.0 379.5L195.4 379.0L195.9 378.5L196.5 377.9L197.0 377.3L197.5 376.8L197.9 376.3L198.3 375.8L198.7 375.4L199.1 374.9L199.5 374.5L199.8 374.1L200.2 373.6L200.6 373.2L201.0 372.7L201.4 372.3L201.8 371.9L202.3 371.4L202.7 371.0L203.2 370.6L203.8 370.1L204.3 369.7L204.8 369.2L205.5 368.7L206.1 368.4L206.7 368.1L207.4 368.0L208.1 368.3L208.7 368.2L209.0 367.7L209.3 367.1L209.7 366.5L210.4 365.9L211.0 365.7L211.6 365.5L212.2 365.6L212.8 366.1L213.4 366.3L215.3 364.6L217.0 363.2L219.3 364.6L221.6 361.8L223.3 364.3L224.4 360.3L226.4 362.0L227.3 358.6L229.0 359.2L230.4 364.3L231.0 357.8L232.4 357.2L233.0 360.3L234.1 354.4L235.8 355.2L236.4 358.6L237.5 354.7L238.5 355.2L239.4 362.4L240.5 354.3L241.6 357.5L243.2 352.1L245.4 360.4L246.5 349.9L248.5 360.6L249.4 348.3L251.2 350.5L252.6 347.2L256.2 347.2L258.4 349.0L259.3 350.7L260.4 349.4L262.0 349.9L262.4 353.0L263.3 348.5L264.6 353.4L266.3 345.6L268.6 349.5L269.6 345.9L271.4 351.5L272.2 343.8L273.7 348.9L275.2 342.3L277.3 347.7L278.6 340.0L280.3 345.9L281.6 339.2L283.4 342.8L284.9 339.0L287.2 341.5L288.3 337.4L290.6 339.2L291.8 336.2L294.6 336.2L296.7 338.7L298.7 336.2L300.3 338.2L301.7 334.2L303.4 334.5L304.5 336.5L305.7 332.2L308.2 333.4L309.9 332.2L313.3 333.4L315.6 331.6L317.9 333.1L320.2 330.5L322.4 330.5L324.7 328.5L327.0 328.5L327.7 328.0L328.1 327.6L328.6 327.1L329.0 326.7L329.6 326.4L330.2 326.2L330.8 326.0L331.5 325.9L332.1 325.7L332.7 325.5L333.2 325.2L333.8 324.9L334.3 324.7L334.9 324.5L335.4 324.4L336.2 324.3L336.8 324.3L337.5 324.1L338.2 323.9L338.9 323.7L339.6 323.5L340.1 323.3L340.6 323.1L341.2 322.8L341.8 322.6L342.4 322.4L343.1 322.2L343.7 321.9L344.5 321.7L345.2 321.5L345.9 321.3L346.5 321.2L347.0 321.0L347.6 320.9L348.1 320.7L348.7 320.6L349.3 320.4L349.9 320.3L350.5 320.1L351.2 320.0L351.8 319.8L352.4 319.7L353.1 319.5L353.7 319.4L354.3 319.2L355.0 319.1L355.6 318.9L356.2 318.8L356.8 318.7L357.4 318.5L358.0 318.4L358.6 318.3L359.2 318.2L359.8 318.1L360.4 317.9L361.0 317.8L361.6 317.7L362.2 317.6L362.8 317.5L363.4 317.4L364.0 317.3L364.6 317.2L365.2 317.1L365.8 317.0L366.4 316.9L367.0 316.8L367.6 316.7L368.1 316.6L368.7 316.5L369.3 316.3L370.0 316.2L370.6 316.1L371.3 316.0L371.9 315.8L372.6 315.7L373.3 315.5L374.0 315.4L374.6 315.3L375.3 315.1L375.9 315.0L376.5 314.9L377.1 314.8L377.7 314.7L378.3 314.6L378.8 314.5L379.5 314.4L380.1 314.3L380.8 314.2L381.3 314.2L382.0 314.3L382.5 314.7L383.3 315.2L383.7 315.6L384.2 316.1L384.7 316.6L385.2 317.0L386.0 317.4L386.6 317.2L387.2 316.7L387.7 316.3L388.2 315.9L388.6 315.5L389.1 315.0L389.5 314.5L389.9 313.8L390.1 313.4L390.2 312.9L390.6 312.4L391.0 312.8L391.1 313.3L391.3 314.0L391.4 314.8L391.4 315.2L391.5 315.6L391.5 316.0L391.6 316.4L391.7 316.8L391.7 317.2L391.8 318.0L392.0 318.6L392.1 319.1L392.7 319.1L392.9 318.6L393.1 317.9L393.3 317.2L393.5 316.4L393.6 316.0L393.8 315.2L394.0 314.5L394.2 314.0L394.4 313.6L394.5 313.2L394.6 312.4L394.9 311.9L395.2 311.4L395.9 311.2L396.6 311.3L397.1 311.4L397.7 311.5L398.3 311.7L399.1 311.7L400.0 311.7L400.7 311.6L401.2 311.5L401.8 311.5L402.3 311.4L402.9 311.3L403.5 311.1L404.2 311.0L404.8 310.9L405.5 310.8L406.1 310.6L406.8 310.5L407.4 310.4L408.1 310.2L408.7 310.1L409.4 310.0L410.0 309.9L410.6 309.8L411.1 309.7L411.7 309.6L412.2 309.5L412.8 309.4L413.3 309.3L413.8 309.3L414.3 309.2L414.9 309.1L415.4 309.0L416.0 308.9L416.6 308.8L417.2 308.7L417.9 308.6L418.6 308.5L419.3 308.4L420.1 308.3L420.8 308.2L421.3 308.1L421.9 308.1L422.4 308.0L422.9 307.9L423.5 307.8L424.1 307.8L424.6 307.7L425.2 307.6L425.8 307.5L426.4 307.4L427.0 307.4L427.6 307.3L428.3 307.2L428.9 307.1L429.5 307.0L430.2 307.0L430.8 306.9L431.4 306.8L432.1 306.7L432.7 306.6L433.3 306.6L434.0 306.5L434.6 306.4L435.2 306.3L435.9 306.2L436.5 306.2L437.1 306.1L437.7 306.0L438.3 306.0L438.9 305.9L439.5 305.8L440.1 305.8L440.7 305.7L441.3 305.6L441.9 305.6L442.5 305.5L443.1 305.4L443.7 305.4L444.3 305.3L444.9 305.2L445.5 305.2L446.2 305.1L446.8 305.0L447.4 305.0L448.0 304.9L448.6 304.8L449.2 304.8L449.8 304.7L450.4 304.7L451.0 304.6L451.6 304.5L452.2 304.5L452.7 304.4L453.3 304.4L453.9 304.3L454.4 304.3L455.0 304.2L455.7 304.1L456.3 304.1L457.0 304.0L457.6 304.0L458.3 303.9L459.0 303.8L459.6 303.8L460.3 303.7L460.9 303.6L461.6 303.6L462.2 303.5L462.9 303.5L463.5 303.4L464.1 303.4L464.7 303.3L465.3 303.3L465.9 303.2L466.5 303.2L467.1 303.1L467.6 303.1L468.2 303.0L468.7 303.0L469.2 303.0L469.9 302.9L470.9 302.9L471.7 302.8L472.5 302.8L473.3 302.8L474.0 302.7L474.6 302.7L475.2 302.7L475.8 302.7L476.3 302.7L477.0 302.7L477.7 302.8L478.7 302.9L479.4 303.1L480.1 303.5L480.6 303.8L481.3 304.4L481.8 304.9L482.3 305.3L482.9 305.5L483.4 305.4L484.1 305.0L484.6 304.6L485.1 304.1L485.6 303.7L486.1 303.2L486.6 302.8L487.1 302.6L487.7 302.5L488.3 302.5L488.9 302.6L489.5 302.8L490.2 303.0L490.8 303.3L491.4 303.6L491.9 303.9L492.7 304.5L493.2 305.0L493.7 305.4L494.2 305.9L494.7 306.4L495.4 306.9L496.0 307.2L496.6 307.1L497.1 306.8L497.6 306.2L498.0 305.8L498.8 305.5L499.4 305.8L499.9 306.3L500.5 306.6L501.1 306.4L501.5 305.9L501.8 305.3L502.1 304.7L502.4 304.0L502.7 303.3L503.0 302.6L503.2 302.0L503.5 301.5L503.9 300.8L504.4 300.2L504.9 300.0L505.5 300.2L506.0 300.7L506.3 301.2L506.7 301.7L507.2 302.2L507.9 302.7L508.7 303.0L509.3 303.2L510.0 303.3L510.8 303.4L511.3 303.4L511.8 303.5L512.4 303.5L513.0 303.5L513.6 303.6L514.3 303.6L515.0 303.6L515.7 303.7L516.5 303.7L517.3 303.7L518.1 303.8L518.8 303.8L519.3 303.9L519.9 303.9L520.4 303.9L521.0 304.0L521.5 304.0L522.1 304.0L522.7 304.1L523.3 304.1L523.9 304.1L524.5 304.2L525.2 304.2L525.8 304.2L526.4 304.3L527.1 304.3L527.7 304.3L528.4 304.4L529.0 304.4L529.7 304.4L530.3 304.5L531.0 304.5L531.6 304.5L532.3 304.6L532.9 304.6L533.6 304.6L534.2 304.7L534.8 304.7L535.4 304.7L536.0 304.7L536.7 304.8L537.3 304.8L537.9 304.8L538.6 304.9L539.2 304.9L539.9 304.9L540.6 304.9L541.2 305.0L541.9 305.0L542.5 305.0L543.2 305.1L543.8 305.1L544.5 305.1L545.1 305.1L545.8 305.2L546.4 305.2L547.0 305.2L547.6 305.3L548.2 305.3L548.8 305.3L549.3 305.3L549.9 305.4L550.4 305.4L550.9 305.4L551.6 305.5L552.6 305.5L553.4 305.6L554.2 305.7L554.9 305.7L555.6 305.8L556.2 305.9L556.7 306.0L557.2 306.0L557.7 306.1L558.5 306.2L559.2 306.3L559.7 306.4L560.3 306.4L561.0 306.5L561.6 306.5L562.3 306.5L562.9 306.5L563.4 306.5L564.0 306.5L564.6 306.6L565.2 306.7L565.9 306.8L566.5 307.0L567.0 307.2L567.5 307.4L568.1 307.6L568.6 307.9L569.2 308.2L569.7 308.4L570.3 308.7L570.9 309.1L571.4 309.4L572.0 309.7L572.6 310.0L573.1 310.3L573.7 310.6L574.2 310.9L574.7 311.3L575.2 311.6L575.7 311.9L576.2 312.2L576.7 312.5L577.2 312.9L577.8 313.2L578.3 313.5L578.8 313.9L579.3 314.2L579.9 314.6L580.4 314.9L580.9 315.3L581.5 315.6L582.0 315.9L582.5 316.3L583.1 316.7L583.7 317.1L584.3 317.4L584.8 317.8L585.4 318.2L586.0 318.6L586.5 318.9L587.0 319.2L587.7 319.7L588.4 320.0L588.9 320.3L589.5 320.5L590.1 320.4L590.6 319.9L591.2 320.1L591.9 320.5L592.5 320.8L593.1 321.2L593.7 321.6L594.2 321.9L594.8 322.3L595.4 322.5L596.0 322.8L596.7 323.0L597.3 323.2L597.9 323.4L598.5 323.6L599.2 323.9L599.9 324.4L600.4 324.8L601.1 325.0L601.6 324.6L602.3 324.4L602.8 324.5L603.4 324.6L604.1 324.8L604.8 325.1L605.4 325.5L606.0 326.1L606.5 326.7L606.9 327.2L607.3 327.8L607.6 328.2L608.3 328.8L609.0 328.8L609.6 328.7L610.1 329.1L610.3 329.5L610.5 330.1L610.7 330.7L610.9 331.5L611.0 332.2L611.2 332.9L611.4 333.5L611.5 334.0L611.9 334.6L612.4 334.5L612.8 335.0L613.0 335.4L613.1 335.9L613.3 336.4L613.5 337.1L613.7 337.7L613.9 338.4L614.1 339.1L614.3 339.7L614.4 340.2L614.6 340.7L614.7 341.2L614.9 341.7L615.0 342.2L615.2 342.8L615.4 343.4L615.5 344.1L615.7 344.8L615.8 345.6L615.9 346.1L616.0 346.6L616.0 347.1L616.1 347.6L616.2 348.1L616.3 348.7L616.4 349.2L616.4 349.8L616.5 350.4L616.6 351.0L616.7 351.6L616.7 352.3L616.8 352.9L616.9 353.6L617.0 354.3L617.0 355.0L617.1 355.7L617.2 356.5L617.3 357.0L617.3 357.5L617.4 358.0L617.4 358.6L617.5 359.1L617.5 359.7L617.6 360.2L617.6 360.8L617.7 361.3L617.8 361.9L617.8 362.5L617.9 363.1L617.9 363.7L618.0 364.3L618.0 364.9L618.1 365.5L618.1 366.1L618.2 366.8L618.3 367.4L618.3 368.1L618.4 368.7L618.4 369.3L618.5 370.0L618.5 370.7L618.6 371.3L618.6 372.0L618.7 372.7L618.7 373.3L618.8 373.8L618.8 374.4L618.8 375.0L618.9 375.5L618.9 376.1L619.0 376.7L619.0 377.3L619.0 377.9L619.1 378.5L619.1 379.1L619.1 379.7L619.2 380.3L619.2 380.9L619.3 381.5L619.3 382.1L619.3 382.7L619.4 383.4L619.4 384.0L619.4 384.6L619.5 385.2L619.5 385.9L619.5 386.5L619.6 387.1L619.6 387.7L619.6 388.4L619.7 389.0L619.7 389.6L619.7 390.2L619.8 390.8L619.8 391.5L619.8 392.1L619.9 392.7L619.9 393.3L619.9 393.9L619.9 394.5L620.0 395.1L620.0 395.7L620.0 396.4L620.1 397.0L620.1 397.6L620.1 398.2L620.1 398.9L620.2 399.5L620.2 400.1L620.2 400.7L620.2 401.4L620.3 402.0L620.3 402.6L620.3 403.2L620.3 403.9L620.3 404.5L620.4 405.1L620.4 405.7L620.4 406.3L620.4 406.9L620.5 407.6L620.5 408.2L620.5 408.8L620.5 409.4L620.5 410.0L620.6 410.5L620.6 411.1L620.6 411.7L620.6 412.3L620.6 412.8L620.7 413.4L620.7 413.9L620.7 414.5L620.7 415.3L620.8 416.0L620.8 416.7L620.8 417.5L620.8 418.3L620.9 419.0L620.9 419.8L620.9 420.6L620.9 421.4L621.0 422.1L621.0 422.9L621.0 423.6L621.0 424.3L621.1 425.0L621.1 425.7L621.1 426.4L621.1 427.0L621.2 427.5L621.2 428.1L621.2 428.6L621.2 429.0L621.3 429.6L621.3 430.0L621.4 430.4L621.6 429.9L621.7 429.4L621.7 428.9L621.8 428.3L621.8 427.7L621.9 427.1L621.9 426.3L622.0 425.6L622.0 424.8L622.0 424.4L622.1 423.9L622.1 423.5L622.1 423.1L622.1 422.7L622.2 422.2L622.2 421.8L622.2 421.4L622.2 420.9L622.3 420.5L622.3 420.1L622.3 419.7L622.3 419.2L622.4 418.8L622.4 418.4L622.4 417.9L622.5 417.4L622.5 416.9L622.5 416.3L622.5 415.7L622.6 415.1L622.6 414.5L622.6 413.9L622.7 413.3L622.7 412.6L622.7 411.9L622.7 411.3L622.8 410.6L622.8 409.9L622.8 409.2L622.9 408.5L622.9 407.9L622.9 407.2L623.0 406.5L623.0 405.8L623.0 405.2L623.0 404.5L623.1 403.8L623.1 403.2L623.1 402.6L623.2 402.0L623.2 401.4L623.2 400.8L623.2 400.3L623.3 399.7L623.3 399.2L623.3 398.8L623.4 398.3L623.4 397.9L623.4 397.1L623.5 396.4L623.5 395.9L623.6 395.4L623.6 394.9L623.7 394.4L623.7 394.0L623.8 393.3L623.9 392.8L624.0 392.3L624.2 391.8L624.8 391.7L625.0 392.1L625.2 392.8L625.4 393.6L625.4 394.1L625.5 394.6L625.6 395.1L625.7 395.7L625.7 396.1L625.8 396.6L625.8 397.2L625.9 397.8L625.9 398.5L626.0 399.2L626.0 399.9L626.0 400.6L626.1 401.4L626.1 402.1L626.1 402.9L626.2 403.6L626.2 404.3L626.2 405.0L626.3 405.6L626.3 406.2L626.4 406.7L626.4 407.2L626.5 407.7L626.6 408.3L626.9 407.6L627.0 407.1L627.1 406.5L627.2 405.9L627.3 405.5L627.5 405.0L627.8 405.6L627.9 406.1L628.0 406.5L628.1 406.9L628.2 407.4L628.5 407.9L629.0 407.5L629.2 406.8L629.5 406.0L629.8 405.3L630.3 404.9L630.8 405.5L631.0 406.1L631.2 407.0L631.3 407.6L631.4 408.0L631.4 408.5L631.5 409.0L631.6 409.6L631.6 410.1L631.7 410.7L631.8 411.4L631.9 412.0L631.9 412.7L632.0 413.3L632.1 414.0L632.2 414.7L632.2 415.4L632.3 416.1L632.4 416.8L632.5 417.4L632.5 418.1L632.6 418.8L632.7 419.4L632.8 420.0L632.8 420.6L632.9 421.3L633.0 421.9L633.1 422.6L633.1 423.3L633.2 423.9L633.3 424.6L633.4 425.3L633.4 426.0L633.5 426.7L633.6 427.3L633.7 428.0L633.8 428.6L633.8 429.3L633.9 429.9L634.0 430.4L634.0 431.0L634.1 431.5L634.2 432.0L634.2 432.4L634.4 433.6L634.6 434.3L634.7 434.9L634.8 435.4L635.0 436.0L635.5 435.6L635.6 435.1L635.7 434.6L635.7 434.1L635.8 433.7L635.9 433.1L635.9 432.5L636.0 431.9L636.1 431.2L636.1 430.4L636.1 430.0L636.2 429.6L636.2 429.1L636.3 428.6L636.3 428.2L636.3 427.7L636.4 427.1L636.4 426.6L636.4 426.2L636.5 425.7L636.5 425.3L636.5 424.8L636.6 424.3L636.6 423.8L636.6 423.3L636.6 422.8L636.7 422.2L636.7 421.7L636.7 421.1L636.8 420.5L636.8 419.9L636.8 419.3L636.9 418.7L636.9 418.1L636.9 417.5L637.0 416.8L637.0 416.2L637.1 415.5L637.1 414.9L637.1 414.2L637.2 413.6L637.2 412.9L637.2 412.3L637.3 411.6L637.3 410.9L637.3 410.3L637.4 409.6L637.4 408.9L637.4 408.3L637.5 407.6L637.5 407.0L637.6 406.3L637.6 405.7L637.6 405.0L637.7 404.4L637.7 403.7L637.7 403.1L637.8 402.5L637.8 401.9L637.8 401.3L637.9 400.7L637.9 400.1L637.9 399.5L638.0 398.8L638.0 398.2L638.0 397.6L638.1 397.0L638.1 396.3L638.2 395.7L638.2 395.1L638.2 394.5L638.3 393.8L638.3 393.2L638.3 392.6L638.4 391.9L638.4 391.3L638.4 390.7L638.5 390.1L638.5 389.4L638.6 388.8L638.6 388.2L638.6 387.6L638.7 386.9L638.7 386.3L638.7 385.7L638.8 385.1L638.8 384.5L638.9 383.9L638.9 383.3L638.9 382.7L639.0 382.1L639.0 381.5L639.0 381.0L639.1 380.4L639.1 379.8L639.1 379.3L639.2 378.7L639.2 378.2L639.3 377.6L639.3 377.1L639.4 376.4L639.4 375.7L639.5 375.0L639.5 374.3L639.6 373.6L639.6 373.0L639.7 372.3L639.7 371.6L639.8 371.0L639.8 370.3L639.9 369.7L639.9 369.1L640.0 368.5L640.0 367.8L640.1 367.2L640.1 366.6L640.2 366.0L640.2 365.4L640.3 364.9L640.3 364.3L640.4 363.7L640.4 363.1L640.5 362.6L640.6 362.0L640.6 361.5L640.7 360.9L640.7 360.4L640.8 359.9L640.8 359.4L640.9 358.9L640.9 358.2L641.0 357.5L641.1 356.8L641.2 356.1L641.3 355.5L641.4 354.8L641.4 354.2L641.5 353.6L641.6 353.0L641.7 352.4L641.8 351.8L641.9 351.3L642.0 350.7L642.0 350.1L642.1 349.6L642.2 349.0L642.3 348.5L642.4 347.9L642.4 347.3L642.5 346.8L642.6 346.2L642.7 345.6L642.8 344.9L642.8 344.3L642.9 343.7L643.0 343.1L643.0 342.5L643.1 341.8L643.2 341.2L643.2 340.6L643.3 340.0L643.4 339.4L643.4 338.8L643.5 338.2L643.6 337.6L643.6 337.0L643.7 336.4L643.8 335.9L643.8 335.3L643.9 334.7L644.0 334.1L644.1 333.4L644.1 332.7L644.2 332.1L644.3 331.4L644.4 330.8L644.5 330.1L644.6 329.5L644.6 328.8L644.7 328.2L644.8 327.6L644.9 327.0L644.9 326.5L645.0 325.9L645.1 325.4L645.1 324.9L645.2 324.5L645.7 320.2L647.1 317.8L648.5 314.5L649.5 309.8L650.4 311.7L652.3 304.1L653.7 307.9L654.7 310.7L655.6 296.5L657.0 306.0L658.5 294.6L660.4 303.1L662.3 291.3L663.5 310.7L664.8 288.9L666.0 296.5L667.9 287.5L668.9 293.7L670.8 287.0L672.2 292.7L673.6 282.8L675.0 288.5L676.0 285.2L677.9 284.2L678.4 284.0L679.0 283.8L679.5 283.5L680.2 282.9L680.6 282.4L681.1 281.9L681.7 281.4L682.4 281.0L682.9 280.7L683.5 280.5L684.0 280.2L684.6 279.9L685.2 279.6L685.8 279.4L686.3 279.1L687.0 278.7L687.6 278.4L688.2 278.1L688.8 277.8L689.5 277.4L689.8 277.2"/>
</g>
<g stroke="#404040" stroke-width="1.6" fill="none">
<line x1="39" y1="0.9" x2="690.6" y2="0.9" stroke="#555" stroke-width="2"/>
<line x1="39.2" y1="0" x2="39.2" y2="527.8"/>
<line x1="690.5" y1="0" x2="690.5" y2="527.8" stroke="#111" stroke-width="1.4"/>
<line x1="38.4" y1="527.2" x2="691.2" y2="527.2" stroke="#111" stroke-width="1.5"/>
<line x1="39" y1="264" x2="690.6" y2="264" stroke="#3a3a3a" stroke-width="1.6"/>
</g>
<g stroke="#111" stroke-width="1.2">
<line x1="39.00" y1="527" x2="39.00" y2="521" /><line x1="75.20" y1="527" x2="75.20" y2="523.5" /><line x1="111.40" y1="527" x2="111.40" y2="521" /><line x1="147.60" y1="527" x2="147.60" y2="523.5" /><line x1="183.80" y1="527" x2="183.80" y2="521" /><line x1="220.00" y1="527" x2="220.00" y2="523.5" /><line x1="256.20" y1="527" x2="256.20" y2="521" /><line x1="292.40" y1="527" x2="292.40" y2="523.5" /><line x1="328.60" y1="527" x2="328.60" y2="521" /><line x1="364.80" y1="527" x2="364.80" y2="523.5" /><line x1="401.00" y1="527" x2="401.00" y2="521" /><line x1="437.20" y1="527" x2="437.20" y2="523.5" /><line x1="473.40" y1="527" x2="473.40" y2="521" /><line x1="509.60" y1="527" x2="509.60" y2="523.5" /><line x1="545.80" y1="527" x2="545.80" y2="521" /><line x1="582.00" y1="527" x2="582.00" y2="523.5" /><line x1="618.20" y1="527" x2="618.20" y2="521" /><line x1="654.40" y1="527" x2="654.40" y2="523.5" /><line x1="690.60" y1="527" x2="690.60" y2="521" />
</g>
<g class="sans" font-size="13.8" fill="#111" text-anchor="middle" font-family="Liberation Sans, sans-serif">
<text x="39.00" y="543.7">400</text><text x="111.40" y="543.7">800</text><text x="183.80" y="543.7">1200</text><text x="256.20" y="543.7">1600</text><text x="328.60" y="543.7">2000</text><text x="401.00" y="543.7">2400</text><text x="473.40" y="543.7">2800</text><text x="545.80" y="543.7">3200</text><text x="618.20" y="543.7">3600</text><text x="690.60" y="543.7">4000</text>
</g>
<g font-family="Liberation Serif, serif" fill="#111">
<line x1="90" y1="25" x2="137.6" y2="25" stroke="#999" stroke-width="1.8"/>
<line x1="91.2" y1="47.5" x2="138.2" y2="47.5" stroke="#777" stroke-width="1.5"/>
<text x="143" y="32.3" font-size="20.8">a Kaolinite</text>
<text x="144.5" y="55.2" font-size="20.8">b Kaolinite+Gold</text>
<text x="61.2" y="22" font-size="16.8">a</text>
<text x="61.2" y="300.6" font-size="16.8">b</text>
<g font-size="16.3" letter-spacing="0.12">
<text x="389.7" y="84.0" fill="#111">1.430.07</text>
<text x="461.0" y="84.0" fill="#111">7.914.14</text>
<text x="389.7" y="103.0" fill="#00ee00">2.472.50</text>
<text x="461.0" y="103.0" fill="#ff00ff">8.1010.57</text>
<text x="389.7" y="122.1" fill="#ff0000">3.541.93</text>
<text x="461.0" y="122.1" fill="#ff00ff">9.1093.49</text>
<text x="389.7" y="141.2" fill="#111">4.692.35</text>
<text x="461.0" y="141.2" fill="#111">10.1645.06</text>
<text x="389.7" y="160.2" fill="#111">5.752.14</text>
<text x="461.0" y="160.2" fill="#111">11.3619.91</text>
<text x="389.7" y="179.2" fill="#0000ff">6.796.50</text>
<text x="461.0" y="179.2" fill="#111">12.3695.13</text>
<text x="336.2" y="358.4" fill="#111">1.430.07</text>
<text x="408.1" y="358.4" fill="#111">7.914.14</text>
<text x="336.2" y="377.7" fill="#00ee00">2.470.37</text>
<text x="408.1" y="377.7" fill="#ff00ff">8.1008.64</text>
<text x="336.2" y="396.9" fill="#ff0000">3.538.07</text>
<text x="408.1" y="396.9" fill="#ff00ff">9.1114.71</text>
<text x="336.2" y="416.2" fill="#111">4.692.35</text>
<text x="408.1" y="416.2" fill="#111">10.1645.06</text>
<text x="336.2" y="435.5" fill="#111">5.752.14</text>
<text x="408.1" y="435.5" fill="#7a7a00">11.2953.31</text>
<text x="336.2" y="454.8" fill="#0000ff">6.796.64</text>
<text x="408.1" y="454.8" fill="#111">12.3619.91</text>
<text x="408.1" y="474.0" fill="#111">13.3695.13</text>
</g>
<g font-size="15.9">
<text x="40.6" y="191.0" fill="#111">1</text><text x="48.8" y="196.2" fill="#00ee00">2</text><text x="62.6" y="195.5" fill="#ff0000">3</text><text x="88.0" y="162.5" fill="#111">4</text><text x="98.0" y="136.8" fill="#111">5</text><text x="108.4" y="130.5" fill="#0000ff">6</text><text x="129.0" y="193.6" fill="#111">7</text><text x="146.0" y="199.8" fill="#ff00ff">8</text><text x="164.6" y="192.9" fill="#ff00ff">9</text><text x="255.5" y="93.3" fill="#111">10</text><text x="614.4" y="172.0" fill="#111">11</text><text x="630.0" y="179.2" fill="#111">12</text>
<text x="40.4" y="458.0" fill="#111">1</text><text x="48.6" y="463.1" fill="#00ee00">2</text><text x="62.5" y="462.5" fill="#ff0000">3</text><text x="87.8" y="439.0" fill="#111">4</text><text x="97.6" y="413.7" fill="#111">5</text><text x="108.8" y="407.0" fill="#0000ff">6</text><text x="129.0" y="460.7" fill="#111">7</text><text x="146.0" y="466.5" fill="#ff00ff">8</text><text x="164.6" y="459.5" fill="#ff00ff">9</text><text x="255.0" y="369.4" fill="#111">10</text><text x="492.0" y="322.4" fill="#7a7a00">11</text><text x="615.0" y="449.9" fill="#111">12</text><text x="630.1" y="456.1" fill="#111">13</text>
</g>
<text x="281.5" y="577" font-size="20" letter-spacing="0.55">Wavenumber (cm</text><text x="431.6" y="567.8" font-size="12.5">-1</text><text x="443" y="577" font-size="20">)</text>
<text transform="translate(14.5 329) rotate(-90)" font-size="20.8">Transmittance(%)</text>
</g>
</svg>
</body></html>
